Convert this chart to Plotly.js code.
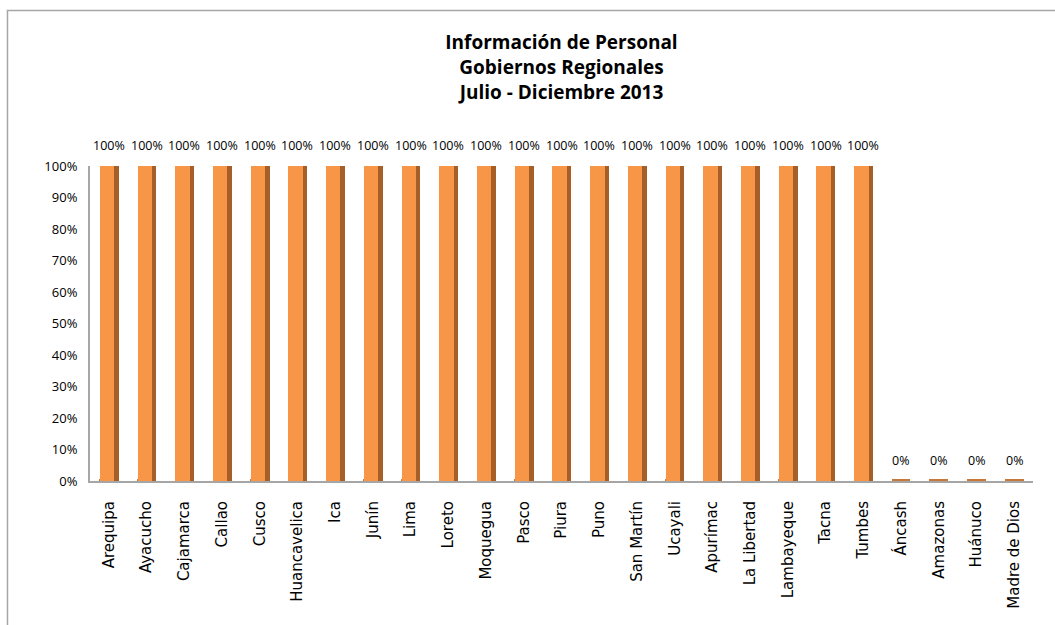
<!DOCTYPE html>
<html><head><meta charset="utf-8">
<script src="https://cdn.plot.ly/plotly-3.0.1.min.js"></script>
<style>body{margin:0;background:#fff}#chart{width:1055px;height:625px}</style>
</head><body><div id="chart"></div>
<script>
const categories = ["Arequipa","Ayacucho","Cajamarca","Callao","Cusco","Huancavelica","Ica","Junín","Lima","Loreto","Moquegua","Pasco","Piura","Puno","San Martín","Ucayali","Apurímac","La Libertad","Lambayeque","Tacna","Tumbes","Áncash","Amazonas","Huánuco","Madre de Dios"];
const values = [1,1,1,1,1,1,1,1,1,1,1,1,1,1,1,1,1,1,1,1,1,0,0,0,0];
const labels = values.map(v => Math.round(v*100) + "%");
const yTicks = [0,0.1,0.2,0.3,0.4,0.5,0.6,0.7,0.8,0.9,1];
const yTickText = yTicks.map(v => Math.round(v*100) + "%");

const font = "Open Sans, sans-serif";
const slab = categories.map(() => 0.006);

const traces = [
  {type:'bar', x:categories, y:slab, width:0.5, offset:-0.25, marker:{color:'#C8793A', line:{width:0}}, hoverinfo:'skip'},
  {type:'bar', x:categories, y:values, width:0.12, offset:0.14, marker:{color:'#A65F28', line:{width:0}}, hoverinfo:'skip'},
  {type:'bar', x:categories, y:values, width:0.38, offset:-0.24, marker:{color:'#F79646', line:{width:0}}}
];

const annotations = categories.map((c,i) => ({
  x:c, y:values[i], xref:'x', yref:'y', text:labels[i], showarrow:false,
  yanchor:'bottom', yshift:10, font:{family:font, size:12.5, color:'#000000'}
}));

const layout = {
  width:1055, height:625,
  paper_bgcolor:'#fff', plot_bgcolor:'#fff',
  margin:{l:90, r:22, t:166, b:144},
  barmode:'overlay', bargap:0, showlegend:false,
  title:{text:'<b>Información de Personal<br>Gobiernos Regionales<br>Julio - Diciembre 2013</b>',
    x:0.5, xref:'paper', yref:'container', y:0.921, yanchor:'middle',
    font:{family:'Open Sans, sans-serif', size:19, color:'#000'}},
  xaxis:{type:'category', tickangle:-90, tickfont:{family:'DejaVu Sans, sans-serif', size:15, color:'#000'},
    showline:true, linecolor:'#A6A6A6', linewidth:2, ticks:'', showgrid:false, zeroline:false, ticklabelstandoff:12},
  yaxis:{range:[0,1], tickvals:yTicks, ticktext:yTickText, tickfont:{family:font, size:13, color:'#000'},
    showline:true, linecolor:'#A6A6A6', linewidth:2, showgrid:false, zeroline:false, ticks:'', ticklabelstandoff:8},
  annotations:annotations,
  shapes:[{type:'rect', xref:'paper', yref:'paper', x0:-0.0875, x1:1.1, y0:-0.6, y1:1.494, line:{color:'#A6A6A6', width:1.5}}]
};
Plotly.newPlot('chart', traces, layout, {displayModeBar:false});
</script></body></html>
